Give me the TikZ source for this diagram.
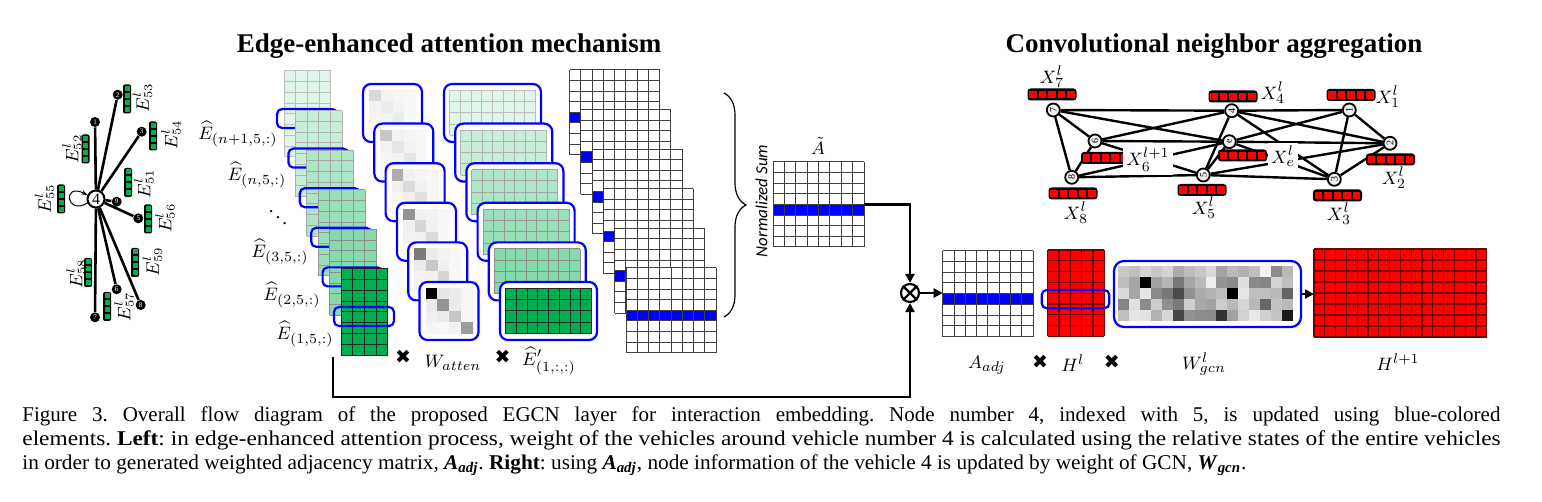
\documentclass[tikz,border=0pt]{standalone}
\usepackage{fontspec}
\setmainfont{Liberation Serif}
\newfontfamily\calfont{Carlito}
\newfontfamily\djv{DejaVu Sans}
\usepackage{graphicx}
\usetikzlibrary{arrows.meta,decorations.pathreplacing,calc}
\definecolor{egreen}{RGB}{0,176,80}
\definecolor{bblue}{RGB}{0,0,255}

\newcommand\gfill[7]{\fill[#7] (#1,#2) rectangle ({#1+#3*#5},{#2+#4*#6});}
\newcommand\glines[7]{%
  \foreach \gi in {0,...,#3} \draw[#7] ({#1+\gi*#5},#2) -- ({#1+\gi*#5},{#2+#4*#6});
  \foreach \gj in {0,...,#4} \draw[#7] (#1,{#2+\gj*#6}) -- ({#1+#3*#5},{#2+\gj*#6});}
\newcommand\attn[3]{%
  \draw[bblue,line width=1.1pt,rounded corners=4pt,fill=white] (#1,#2) rectangle ({#1+59},{#2+58});
  \foreach \v [count=\n from 0] in {#3}{%
    \pgfmathtruncatemacro\rr{floor(\n/4)}%
    \pgfmathtruncatemacro\cc{mod(\n,4)}%
    \fill[black!\v] ({#1+6+\cc*11.75},{#2+6+\rr*11.5}) rectangle ++(11.75,11.5);}}
\newcommand\ebar[2]{%
  \fill[black,rounded corners=1pt] ({#1-4},{#2-14.5}) rectangle ({#1+4},{#2+14.5});
  \foreach \q in {-1.5,-0.5,0.5,1.5} \fill[egreen] ({#1-2.5},{#2+\q*7-2.5}) rectangle ++(5,5);}
\newcommand\rbar[2]{%
  \fill[black,rounded corners=1.5pt] ({#1-24.5},{#2-6}) rectangle ({#1+24.5},{#2+6});
  \foreach \q in {-2,...,2} \fill[red] ({#1+\q*9.5-3.6},{#2-3.6}) rectangle ++(7.2,7.2);}

\begin{document}
\frenchspacing
\begin{tikzpicture}[x=0.5pt,y=-0.5pt,
  title/.style={font=\fontsize{13.5}{15}\selectfont\bfseries,inner sep=0},
  lab/.style={font=\fontsize{9.5}{11}\selectfont,inner sep=0},
  elab/.style={font=\fontsize{9}{10}\selectfont,inner sep=0,rotate=90},
  cnode/.style={circle,draw,line width=1pt,fill=white,minimum size=8.5pt,inner sep=0,font=\fontsize{8}{8}\selectfont},
  snode/.style={circle,fill=black,minimum size=5pt,inner sep=0,text=white,font=\fontsize{3.5}{3.5}\selectfont},
  sedge/.style={line width=1.3pt},
  rnode/.style={circle,draw,line width=0.9pt,fill=gray!12,minimum size=6.5pt,inner sep=0,font=\fontsize{5}{5}\selectfont,rotate=90},
  redge/.style={line width=1.2pt},
  gline/.style={draw=black!75,line width=0.5pt},
  conn/.style={line width=1.2pt,-{Triangle[length=4.5pt,width=4.5pt]}},
  mul/.style={font=\djv\fontsize{9.5}{9.5}\selectfont,inner sep=0}]
\useasboundingbox (0,0) rectangle (1542,502);

% ---------- titles
\node[title] (t1) at (449,46) {Edge-enhanced attention mechanism};
\node[title] (t2) at (1214,46) {Convolutional neighbor aggregation};

% ---------- left star graph
\node[cnode] (c4) at (96,199) {4};
\node[snode] (n1) at (95,122) {1};
\node[snode] (n2) at (117.7,94.7) {2};
\node[snode] (n3) at (141.7,131.7) {3};
\node[snode] (n9) at (116.7,201.7) {9};
\node[snode] (n5) at (138.3,218.3) {5};
\node[snode] (n6) at (116.7,289.3) {6};
\node[snode] (n7) at (95,317.3) {7};
\node[snode] (n8) at (140.7,305) {8};
\foreach \t in {n1,n2,n3,n9,n5,n6,n7,n8} \draw[sedge] (c4) -- (\t);
\draw[line width=0.5pt,-{Stealth[length=3pt]}] (c4.205) .. controls (66,216) and (62,182) .. (c4.155);

\ebar{127}{99}    \node[elab] (l53) at (142.5,97.5) {$E^{l}_{53}$};
\ebar{153}{136}   \node[elab] (l54) at (171,134.5) {$E^{l}_{54}$};
\ebar{85.5}{149}  \node[elab] (l52) at (72,149) {$E^{l}_{52}$};
\ebar{128}{182.5} \node[elab] (l51) at (144,183.5) {$E^{l}_{51}$};
\ebar{61}{199}    \node[elab] (l55) at (44.5,198.5) {$E^{l}_{55}$};
\ebar{148}{219}   \node[elab] (l56) at (165,218) {$E^{l}_{56}$};
\ebar{88}{272.5}  \node[elab] (l58) at (76,273.5) {$E^{l}_{58}$};
\ebar{135}{262.5} \node[elab] (l59) at (152.5,261.5) {$E^{l}_{59}$};
\ebar{107}{306.5} \node[elab] (l57) at (124,306.5) {$E^{l}_{57}$};

% ---------- E-hat stack
\foreach \k/\c/\lc in {0/12/black!25,1/22/black!30,2/32/black!35,3/40/black!40,4/48/black!45,5/100/black!85}{
  \pgfmathsetmacro\ex{284+11.4*\k}
  \pgfmathsetmacro\ey{71+39.6*\k}
  \gfill{\ex}{\ey}{4}{8}{11.7}{10.75}{egreen!\c!white}
  \glines{\ex}{\ey}{4}{8}{11.7}{10.75}{draw=\lc,line width=0.5pt}
  \draw[bblue,line width=1.1pt,rounded corners=2.5pt] ({\ex-7},{\ey+38}) rectangle ({\ex+53},{\ey+57});
}
\node[lab] (eh1) at (238,134) {$\widehat{E}_{(n+1,5,:)}$};
\node[lab] (eh2) at (257,175) {$\widehat{E}_{(n,5,:)}$};
\node[lab] (ehd) at (278,212) {$\ddots$};
\node[lab] (eh3) at (280,252) {$\widehat{E}_{(3,5,:)}$};
\node[lab] (eh4) at (292,295) {$\widehat{E}_{(2,5,:)}$};
\node[lab] (eh5) at (305,334) {$\widehat{E}_{(1,5,:)}$};
\coordinate (Estart) at (332.7,357);
\coordinate (Ecorner) at (332.7,397);

% ---------- attention boxes
\attn{363}{84}{15,5,4,3,5,8,5,3,4,5,8,3,3,3,3,8}
\attn{374.3}{123.6}{22,5,4,3,5,10,5,3,4,5,10,3,3,3,3,10}
\attn{385.6}{163.2}{32,6,4,3,6,14,6,3,4,6,12,3,3,3,3,12}
\attn{396.9}{202.8}{42,6,5,3,6,16,6,3,5,6,14,3,3,3,3,14}
\attn{408.2}{242.4}{52,8,5,3,8,22,6,3,5,6,16,3,3,3,3,18}
\attn{419.5}{282}{100,10,8,4,8,42,8,4,6,8,22,4,4,3,5,38}

% ---------- E' boxes
\foreach \k/\c/\lc in {0/12/black!25,1/22/black!30,2/32/black!35,3/40/black!40,4/48/black!45,5/100/black!85}{
  \pgfmathsetmacro\px{444+11.2*\k}
  \pgfmathsetmacro\py{84+39.6*\k}
  \pgfmathsetmacro\qx{\px+5.5}
  \pgfmathsetmacro\qy{\py+6.5}
  \draw[bblue,line width=1.1pt,rounded corners=4pt,fill=white] (\px,\py) rectangle ({\px+97},{\py+58});
  \gfill{\qx}{\qy}{8}{4}{10.75}{11.25}{egreen!\c!white}
  \glines{\qx}{\qy}{8}{4}{10.75}{11.25}{draw=\lc,line width=0.5pt}
}

% ---------- white grid stack
\foreach \k in {0,...,5}{
  \pgfmathsetmacro\gx{569.5+11.3*\k}
  \pgfmathsetmacro\gy{70+39.6*\k}
  \gfill{\gx}{\gy}{8}{8}{11.25}{10.6}{white}
  \fill[bblue] (\gx,{\gy+42.4}) rectangle ({\gx+90},{\gy+53});
  \glines{\gx}{\gy}{8}{8}{11.25}{10.6}{gline}
}

% ---------- brace, normalized sum, A tilde
\draw[line width=0.6pt,decorate,decoration={brace,amplitude=11pt,aspect=0.5}] (724,93) -- (724,317);
\node[font=\calfont\itshape\fontsize{8.5}{8.5}\selectfont,rotate=90,inner sep=0] (ns) at (761.5,201) {Normalized Sum};
\gfill{773}{162}{8}{8}{11.375}{10.625}{white}
\fill[bblue] (773,{162+4*10.625}) rectangle ({773+91},{162+5*10.625});
\glines{773}{162}{8}{8}{11.375}{10.625}{gline}
\coordinate (Atil) at (818.5,204.5);
\coordinate (AtilE) at (864,204.5);
\node[lab] (Atl) at (818,146) {$\tilde{A}$};

% ---------- otimes
\node[circle,draw,line width=1.1pt,minimum size=9pt,inner sep=0,fill=white] (ot) at (910,293) {};
\draw[line width=1.1pt] (ot.45) -- (ot.225) (ot.135) -- (ot.315);

% ---------- A_adj
\gfill{942.7}{250.7}{8}{8}{11.3}{10.75}{white}
\fill[bblue] (942.7,{250.7+43}) rectangle ({942.7+90.4},{250.7+53.75});
\glines{942.7}{250.7}{8}{8}{11.3}{10.75}{gline}
\coordinate (AadjW) at (942.7,293.7);

% ---------- H^l
\gfill{1047.7}{250}{5}{8}{11.3}{10.8}{red}
\glines{1047.7}{250}{5}{8}{11.3}{10.8}{draw=red!45!black,line width=0.6pt}
\draw[bblue,line width=1.1pt,rounded corners=2.5pt] (1041.7,290) rectangle (1109.3,308.3);

% ---------- W_gcn
\node[draw=bblue,line width=1.1pt,rounded corners=5pt,fill=white,minimum width=93.5pt,minimum height=33pt,inner sep=0] (Wbox) at (1207.5,294) {};
\pgfmathsetseed{4242}
\foreach \r in {0,...,4}{\foreach \c in {0,...,15}{
  \pgfmathtruncatemacro\gv{5+60*rnd*rnd+25*rnd}
  \fill[black!\gv] ({1118+\c*10.94},{266+\r*11}) rectangle ++(10.94,11);
}}
\fill[black] ({1118+2*10.94},{266+11}) rectangle ++(10.94,11);
\fill[black] ({1118+10*10.94},{266+22}) rectangle ++(10.94,11);
\fill[black!90] ({1118+15*10.94},{266+44}) rectangle ++(10.94,11);

% ---------- H^{l+1}
\gfill{1314}{249}{16}{8}{10.8}{11}{red}
\glines{1314}{249}{16}{8}{10.8}{11}{draw=red!45!black,line width=0.6pt}
\coordinate (HnW) at (1314,293);

% ---------- connectors
\draw[conn] (AtilE) -| (ot.north);
\draw[conn] (Estart) -- (Ecorner) -| (ot.south);
\draw[conn] (ot.east) -- (ot.east -| AadjW);
\draw[conn] (Wbox.east) -- (Wbox.east -| HnW);

% ---------- bottom labels
\node[mul] (m1) at (403,357) {✖};
\node[lab] (wat) at (453,363) {$W_{atten}$};
\node[mul] (m2) at (502.7,357) {✖};
\node[lab] (ep) at (549,361) {$\widehat{E}'_{(1,:,:)}$};
\node[lab] (aal) at (987,365) {$A_{adj}$};
\node[mul] (m3) at (1040,361.7) {✖};
\node[lab] (hll) at (1072.7,363) {$H^{l}$};
\node[mul] (m4) at (1111.7,362) {✖};
\node[lab] (wgl) at (1204,364) {$W^{l}_{gcn}$};
\node[lab] (hnl) at (1398,362) {$H^{l+1}$};

% ---------- right graph
\node[rnode] (r7) at (1053.3,110) {7};
\node[rnode] (r4) at (1231.7,110.7) {4};
\node[rnode] (r1) at (1349.3,110) {1};
\node[rnode] (r6) at (1095,141) {6};
\node[rnode] (re) at (1229.3,141.7) {e};
\node[rnode] (r2) at (1390,143.3) {2};
\node[rnode] (r8) at (1071.7,177.3) {8};
\node[rnode] (r5) at (1203.3,175) {5};
\node[rnode] (r3) at (1334.3,179.3) {3};
\foreach \a/\b in {r7/r4,r4/r1,r7/r6,r7/r8,r7/re,r6/r4,r6/re,re/r2,r6/r5,r8/re,r8/r6,r8/r5,r5/r3,r5/r4,r5/re,r5/r2,re/r1,r4/r2,r4/r3,re/r3,r1/r2,r1/r3,r2/r3}
  \draw[redge] (\a) -- (\b);

\rbar{1052}{94.5}   \node[lab] (x7) at (1052,77) {$X^{l}_{7}$};
\rbar{1233}{96.5}   \node[lab] (x4) at (1273,93) {$X^{l}_{4}$};
\rbar{1351}{95}     \node[lab] (x1) at (1388,97) {$X^{l}_{1}$};
\rbar{1105.5}{158}  \node[lab,fill=white,inner sep=1.5pt] (x6) at (1148,160) {$X^{l+1}_{6}$};
\rbar{1242.5}{155.5}\node[lab,fill=white,inner sep=1.5pt] (xe) at (1283,156) {$X^{l}_{e}$};
\rbar{1390.5}{159.5} \node[lab] (x2) at (1394,178) {$X^{l}_{2}$};
\rbar{1073}{193.5}  \node[lab] (x8) at (1076,213) {$X^{l}_{8}$};
\rbar{1202}{190}    \node[lab] (x5) at (1204,208) {$X^{l}_{5}$};
\rbar{1337.5}{195.5}\node[lab] (x3) at (1339,214) {$X^{l}_{3}$};

% ---------- caption
\node[anchor=base west,inner sep=0,font=\fontsize{10.5}{12}\selectfont] (cap1) at (22,421)
  {\makebox[739pt][s]{Figure 3. Overall flow diagram of the proposed EGCN layer for interaction embedding. Node number 4, indexed with 5, is updated using blue-colored}};
\node[anchor=base west,inner sep=0,font=\fontsize{10.5}{12}\selectfont] (cap2) at (22,445)
  {\resizebox{739pt}{\height}{elements. \textbf{Left}: in edge-enhanced attention process, weight of the vehicles around vehicle number 4 is calculated using the relative states of the entire vehicles}};
\node[anchor=base west,inner sep=0,font=\fontsize{10.5}{12}\selectfont] (cap3) at (22,469)
  {\resizebox{612pt}{\height}{in order to generated weighted adjacency matrix, \textbf{\textit{A}}\textsubscript{\textbf{\textit{adj}}}. \textbf{Right}: using \textbf{\textit{A}}\textsubscript{\textbf{\textit{adj}}}, node information of the vehicle 4 is updated by weight of GCN, \textbf{\textit{W}}\textsubscript{\textbf{\textit{gcn}}}.}};
\end{tikzpicture}
\end{document}
